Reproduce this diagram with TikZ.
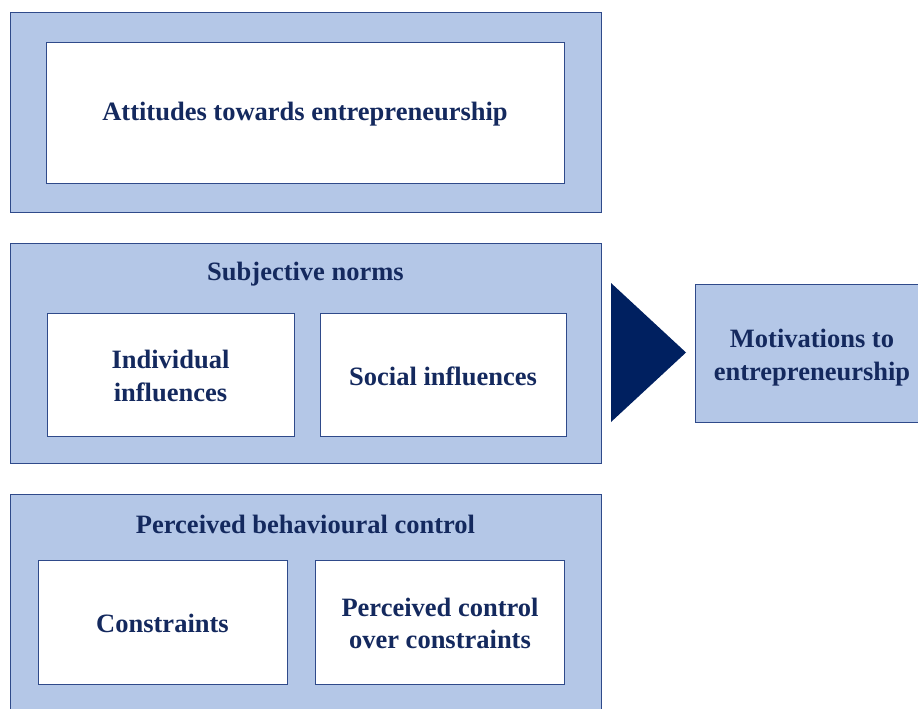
\documentclass[tikz,border=0pt]{standalone}
\usepackage{fontspec}
\setmainfont{Liberation Serif}
\begin{document}
\definecolor{panelblue}{HTML}{B4C7E7}
\definecolor{edgenavy}{HTML}{2F4A8A}
\definecolor{inknavy}{HTML}{14295E}
\definecolor{arrownavy}{HTML}{002060}
\begin{tikzpicture}[x=1pt,y=-1pt,
  panel/.style={draw=edgenavy,fill=panelblue,line width=0.9pt,rectangle,inner sep=0pt},
  card/.style={draw=edgenavy,fill=white,line width=0.9pt,rectangle,inner sep=0pt},
  label/.style={text=inknavy,font=\bfseries\fontsize{26.5}{32.5}\selectfont,align=center,inner sep=0pt,yshift=-1.5pt}]
\useasboundingbox (0,0) rectangle (918,709);
\begin{scope}
\clip (0,0) rectangle (918,709);
% attitudes panel
\node[panel,minimum width=591,minimum height=200] (attP) at (305.5,112) {};
\node[card,minimum width=518,minimum height=141] (att) at (305,112.5) {};
\node[label] at (att.center) {Attitudes towards entrepreneurship};
% subjective norms panel
\node[panel,minimum width=591,minimum height=220] (normP) at (305.5,353) {};
\node[label] at (305.5,273) {Subjective norms};
\node[card,minimum width=247,minimum height=123] (indiv) at (170.5,374.5) {};
\node[label] at (indiv.center) {Individual\\influences};
\node[card,minimum width=246,minimum height=123] (social) at (443,374.5) {};
\node[label] at (social.center) {Social influences};
% perceived behavioural control panel
\node[panel,minimum width=591,minimum height=230] (pbcP) at (305.5,609) {};
\node[label] at (305.5,523) {Perceived behavioural control};
\node[card,minimum width=249,minimum height=124] (constr) at (162.5,622) {};
\node[label] at (constr.center) {Constraints};
\node[card,minimum width=249,minimum height=124] (pcoc) at (440,622) {};
\node[label] at (pcoc.center) {Perceived control\\over constraints};
% outcome
\node[panel,minimum width=240,minimum height=138] (motiv) at (815,353) {};
\node[label] at (812,356) {Motivations to\\entrepreneurship};
% arrow head between the panels and the outcome
\coordinate (triTop) at (611,283);
\coordinate (triBot) at (611,422);
\coordinate (triTip) at (686,352.5);
\fill[arrownavy] (triTop) -- (triTip) -- (triBot) -- cycle;
\end{scope}
\end{tikzpicture}
\end{document}
